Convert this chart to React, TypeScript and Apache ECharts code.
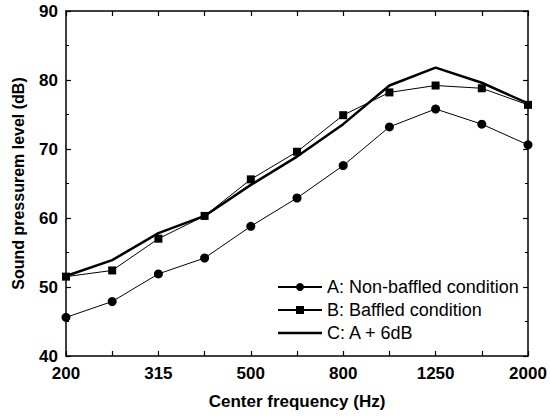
import React, { useEffect, useRef } from "react";
import * as echarts from "echarts";

const categories = ["200", "250", "315", "400", "500", "630", "800", "1000", "1250", "1600", "2000"];
const seriesA = [45.6, 47.9, 51.9, 54.2, 58.8, 62.9, 67.6, 73.2, 75.8, 73.6, 70.6];
const seriesB = [51.5, 52.4, 57.0, 60.3, 65.6, 69.6, 74.9, 78.2, 79.2, 78.8, 76.4];
const seriesC = [51.6, 53.9, 57.8, 60.3, 64.8, 68.9, 73.6, 79.2, 81.8, 79.6, 76.6];
const seriesNames = ["A: Non-baffled condition", "B: Baffled condition", "C: A + 6dB"];

const FONT = "'Liberation Sans', Arial, Helvetica, sans-serif";

export default function App() {
  const ref = useRef<HTMLDivElement>(null);
  useEffect(() => {
    if (!ref.current) return;
    const chart = echarts.init(ref.current, undefined, { renderer: "svg" });
    const axisLine = { show: true, lineStyle: { color: "#000", width: 1.5 } };
    chart.setOption({
      animation: false,
      backgroundColor: "#fff",
      grid: { left: 66, right: 22, top: 11, bottom: 60 },
      legend: {
        orient: "vertical",
        left: 272,
        top: 273,
        itemWidth: 44,
        itemHeight: 10,
        itemGap: 5,
        textStyle: { fontFamily: FONT, fontSize: 18, color: "#000" },
        data: [
          { name: seriesNames[0] },
          { name: seriesNames[1] },
          { name: seriesNames[2], icon: "path://M0,0L44,0L44,2.5L0,2.5Z" },
        ],
      },
      xAxis: [
        {
          type: "category",
          data: categories,
          boundaryGap: false,
          position: "bottom",
          axisLine,
          axisTick: { show: true, inside: true, length: 5, interval: 0, lineStyle: { color: "#000", width: 1.2 } },
          axisLabel: {
            interval: 1,
            margin: 9,
            color: "#000",
            fontFamily: FONT,
            fontSize: 17,
            fontWeight: "bold",
          },
          splitLine: { show: false },
          name: "Center frequency (Hz)",
          nameLocation: "middle",
          nameGap: 37,
          nameTextStyle: { fontFamily: FONT, fontSize: 17, fontWeight: "bold", color: "#000" },
        },
        {
          type: "category",
          data: categories,
          boundaryGap: false,
          position: "top",
          axisLine,
          axisTick: { show: true, inside: true, length: 5, interval: 0, lineStyle: { color: "#000", width: 1.2 } },
          axisLabel: { show: false },
          splitLine: { show: false },
        },
      ],
      yAxis: [
        {
          type: "value",
          min: 40,
          max: 90,
          interval: 10,
          position: "left",
          axisLine,
          axisTick: { show: true, inside: true, length: 5, lineStyle: { color: "#000", width: 1.2 } },
          minorTick: { show: true, splitNumber: 2, length: 3, lineStyle: { color: "#000", width: 1 } },
          axisLabel: {
            margin: 8,
            color: "#000",
            fontFamily: FONT,
            fontSize: 17,
            fontWeight: "bold",
          },
          splitLine: { show: false },
          name: "Sound pressurem level (dB)",
          nameLocation: "middle",
          nameGap: 40,
          nameTextStyle: { fontFamily: FONT, fontSize: 16, fontWeight: "bold", color: "#000" },
        },
        {
          type: "value",
          min: 40,
          max: 90,
          interval: 10,
          position: "right",
          axisLine,
          axisTick: { show: true, inside: true, length: 5, lineStyle: { color: "#000", width: 1.2 } },
          minorTick: { show: true, splitNumber: 2, length: 3, lineStyle: { color: "#000", width: 1 } },
          axisLabel: { show: false },
          splitLine: { show: false },
        },
      ],
      series: [
        {
          name: seriesNames[0],
          type: "line",
          data: seriesA,
          symbol: "circle",
          symbolSize: 9,
          itemStyle: { color: "#000" },
          lineStyle: { color: "#000", width: 1 },
        },
        {
          name: seriesNames[1],
          type: "line",
          data: seriesB,
          symbol: "rect",
          symbolSize: 8,
          itemStyle: { color: "#000" },
          lineStyle: { color: "#000", width: 1 },
        },
        {
          name: seriesNames[2],
          type: "line",
          data: seriesC,
          symbol: "none",
          showSymbol: false,
          itemStyle: { color: "#000" },
          lineStyle: { color: "#000", width: 2.5 },
        },
      ],
    });
    return () => chart.dispose();
  }, []);
  return <div ref={ref} style={{ width: 550, height: 416, position: "absolute", left: 0, top: 0 }} />;
}
